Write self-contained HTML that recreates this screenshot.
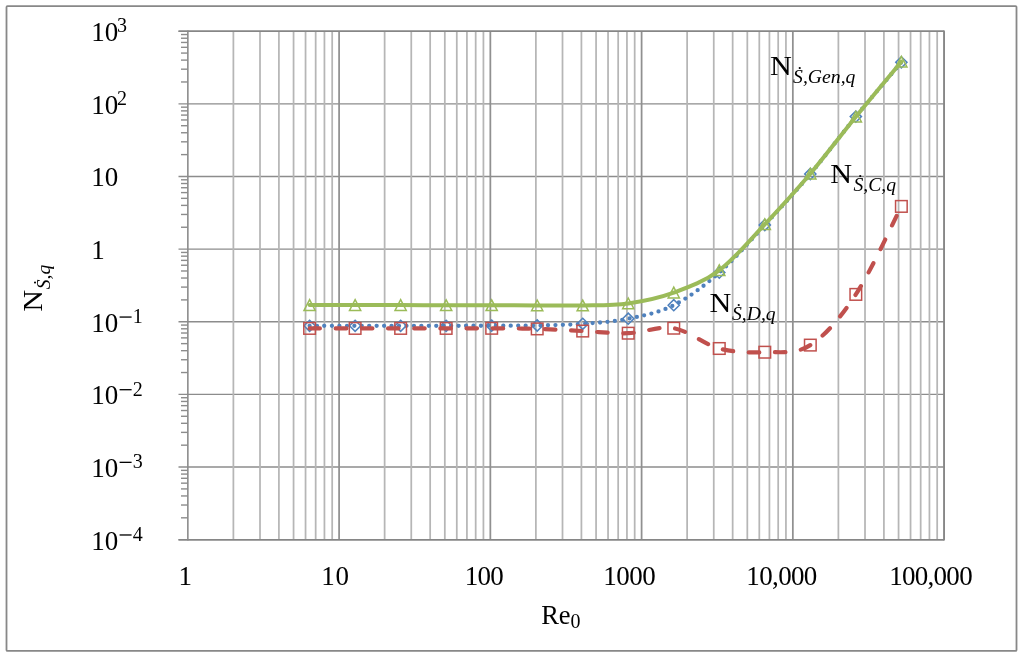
<!DOCTYPE html>
<html><head><meta charset="utf-8"><style>
html,body{margin:0;padding:0;background:#fff;}
svg{display:block;will-change:transform;}
</style></head><body>
<svg width="1024" height="658" viewBox="0 0 1024 658">
<rect x="0" y="0" width="1024" height="658" fill="#fff"/>
<rect x="6.5" y="6.2" width="1010" height="644.7" rx="1" fill="none" stroke="#888" stroke-width="1.8"/>
<line x1="178.5" y1="539.68" x2="944.10" y2="539.68" stroke="#8c8c8c" stroke-width="1.4"/>
<line x1="178.5" y1="467.04" x2="944.10" y2="467.04" stroke="#8c8c8c" stroke-width="1.4"/>
<line x1="178.5" y1="394.40" x2="944.10" y2="394.40" stroke="#8c8c8c" stroke-width="1.4"/>
<line x1="178.5" y1="321.76" x2="944.10" y2="321.76" stroke="#8c8c8c" stroke-width="1.4"/>
<line x1="178.5" y1="249.12" x2="944.10" y2="249.12" stroke="#8c8c8c" stroke-width="1.4"/>
<line x1="178.5" y1="176.48" x2="944.10" y2="176.48" stroke="#8c8c8c" stroke-width="1.4"/>
<line x1="178.5" y1="103.84" x2="944.10" y2="103.84" stroke="#8c8c8c" stroke-width="1.4"/>
<line x1="178.5" y1="31.20" x2="944.10" y2="31.20" stroke="#8c8c8c" stroke-width="1.4"/>
<line x1="181" y1="517.81" x2="187.85" y2="517.81" stroke="#8c8c8c" stroke-width="1.4"/>
<line x1="181" y1="505.02" x2="187.85" y2="505.02" stroke="#8c8c8c" stroke-width="1.4"/>
<line x1="181" y1="495.95" x2="187.85" y2="495.95" stroke="#8c8c8c" stroke-width="1.4"/>
<line x1="181" y1="488.91" x2="187.85" y2="488.91" stroke="#8c8c8c" stroke-width="1.4"/>
<line x1="181" y1="483.16" x2="187.85" y2="483.16" stroke="#8c8c8c" stroke-width="1.4"/>
<line x1="181" y1="478.29" x2="187.85" y2="478.29" stroke="#8c8c8c" stroke-width="1.4"/>
<line x1="181" y1="474.08" x2="187.85" y2="474.08" stroke="#8c8c8c" stroke-width="1.4"/>
<line x1="181" y1="470.36" x2="187.85" y2="470.36" stroke="#8c8c8c" stroke-width="1.4"/>
<line x1="181" y1="445.17" x2="187.85" y2="445.17" stroke="#8c8c8c" stroke-width="1.4"/>
<line x1="181" y1="432.38" x2="187.85" y2="432.38" stroke="#8c8c8c" stroke-width="1.4"/>
<line x1="181" y1="423.31" x2="187.85" y2="423.31" stroke="#8c8c8c" stroke-width="1.4"/>
<line x1="181" y1="416.27" x2="187.85" y2="416.27" stroke="#8c8c8c" stroke-width="1.4"/>
<line x1="181" y1="410.52" x2="187.85" y2="410.52" stroke="#8c8c8c" stroke-width="1.4"/>
<line x1="181" y1="405.65" x2="187.85" y2="405.65" stroke="#8c8c8c" stroke-width="1.4"/>
<line x1="181" y1="401.44" x2="187.85" y2="401.44" stroke="#8c8c8c" stroke-width="1.4"/>
<line x1="181" y1="397.72" x2="187.85" y2="397.72" stroke="#8c8c8c" stroke-width="1.4"/>
<line x1="181" y1="372.53" x2="187.85" y2="372.53" stroke="#8c8c8c" stroke-width="1.4"/>
<line x1="181" y1="359.74" x2="187.85" y2="359.74" stroke="#8c8c8c" stroke-width="1.4"/>
<line x1="181" y1="350.67" x2="187.85" y2="350.67" stroke="#8c8c8c" stroke-width="1.4"/>
<line x1="181" y1="343.63" x2="187.85" y2="343.63" stroke="#8c8c8c" stroke-width="1.4"/>
<line x1="181" y1="337.88" x2="187.85" y2="337.88" stroke="#8c8c8c" stroke-width="1.4"/>
<line x1="181" y1="333.01" x2="187.85" y2="333.01" stroke="#8c8c8c" stroke-width="1.4"/>
<line x1="181" y1="328.80" x2="187.85" y2="328.80" stroke="#8c8c8c" stroke-width="1.4"/>
<line x1="181" y1="325.08" x2="187.85" y2="325.08" stroke="#8c8c8c" stroke-width="1.4"/>
<line x1="181" y1="299.89" x2="187.85" y2="299.89" stroke="#8c8c8c" stroke-width="1.4"/>
<line x1="181" y1="287.10" x2="187.85" y2="287.10" stroke="#8c8c8c" stroke-width="1.4"/>
<line x1="181" y1="278.03" x2="187.85" y2="278.03" stroke="#8c8c8c" stroke-width="1.4"/>
<line x1="181" y1="270.99" x2="187.85" y2="270.99" stroke="#8c8c8c" stroke-width="1.4"/>
<line x1="181" y1="265.24" x2="187.85" y2="265.24" stroke="#8c8c8c" stroke-width="1.4"/>
<line x1="181" y1="260.37" x2="187.85" y2="260.37" stroke="#8c8c8c" stroke-width="1.4"/>
<line x1="181" y1="256.16" x2="187.85" y2="256.16" stroke="#8c8c8c" stroke-width="1.4"/>
<line x1="181" y1="252.44" x2="187.85" y2="252.44" stroke="#8c8c8c" stroke-width="1.4"/>
<line x1="181" y1="227.25" x2="187.85" y2="227.25" stroke="#8c8c8c" stroke-width="1.4"/>
<line x1="181" y1="214.46" x2="187.85" y2="214.46" stroke="#8c8c8c" stroke-width="1.4"/>
<line x1="181" y1="205.39" x2="187.85" y2="205.39" stroke="#8c8c8c" stroke-width="1.4"/>
<line x1="181" y1="198.35" x2="187.85" y2="198.35" stroke="#8c8c8c" stroke-width="1.4"/>
<line x1="181" y1="192.60" x2="187.85" y2="192.60" stroke="#8c8c8c" stroke-width="1.4"/>
<line x1="181" y1="187.73" x2="187.85" y2="187.73" stroke="#8c8c8c" stroke-width="1.4"/>
<line x1="181" y1="183.52" x2="187.85" y2="183.52" stroke="#8c8c8c" stroke-width="1.4"/>
<line x1="181" y1="179.80" x2="187.85" y2="179.80" stroke="#8c8c8c" stroke-width="1.4"/>
<line x1="181" y1="154.61" x2="187.85" y2="154.61" stroke="#8c8c8c" stroke-width="1.4"/>
<line x1="181" y1="141.82" x2="187.85" y2="141.82" stroke="#8c8c8c" stroke-width="1.4"/>
<line x1="181" y1="132.75" x2="187.85" y2="132.75" stroke="#8c8c8c" stroke-width="1.4"/>
<line x1="181" y1="125.71" x2="187.85" y2="125.71" stroke="#8c8c8c" stroke-width="1.4"/>
<line x1="181" y1="119.96" x2="187.85" y2="119.96" stroke="#8c8c8c" stroke-width="1.4"/>
<line x1="181" y1="115.09" x2="187.85" y2="115.09" stroke="#8c8c8c" stroke-width="1.4"/>
<line x1="181" y1="110.88" x2="187.85" y2="110.88" stroke="#8c8c8c" stroke-width="1.4"/>
<line x1="181" y1="107.16" x2="187.85" y2="107.16" stroke="#8c8c8c" stroke-width="1.4"/>
<line x1="181" y1="81.97" x2="187.85" y2="81.97" stroke="#8c8c8c" stroke-width="1.4"/>
<line x1="181" y1="69.18" x2="187.85" y2="69.18" stroke="#8c8c8c" stroke-width="1.4"/>
<line x1="181" y1="60.11" x2="187.85" y2="60.11" stroke="#8c8c8c" stroke-width="1.4"/>
<line x1="181" y1="53.07" x2="187.85" y2="53.07" stroke="#8c8c8c" stroke-width="1.4"/>
<line x1="181" y1="47.32" x2="187.85" y2="47.32" stroke="#8c8c8c" stroke-width="1.4"/>
<line x1="181" y1="42.45" x2="187.85" y2="42.45" stroke="#8c8c8c" stroke-width="1.4"/>
<line x1="181" y1="38.24" x2="187.85" y2="38.24" stroke="#8c8c8c" stroke-width="1.4"/>
<line x1="181" y1="34.52" x2="187.85" y2="34.52" stroke="#8c8c8c" stroke-width="1.4"/>
<line x1="233.38" y1="31.20" x2="233.38" y2="539.68" stroke="#b6b6b6" stroke-width="1.75"/>
<line x1="260.01" y1="31.20" x2="260.01" y2="539.68" stroke="#b6b6b6" stroke-width="1.75"/>
<line x1="278.91" y1="31.20" x2="278.91" y2="539.68" stroke="#b6b6b6" stroke-width="1.75"/>
<line x1="293.57" y1="31.20" x2="293.57" y2="539.68" stroke="#b6b6b6" stroke-width="1.75"/>
<line x1="305.55" y1="31.20" x2="305.55" y2="539.68" stroke="#b6b6b6" stroke-width="1.75"/>
<line x1="315.67" y1="31.20" x2="315.67" y2="539.68" stroke="#b6b6b6" stroke-width="1.75"/>
<line x1="324.44" y1="31.20" x2="324.44" y2="539.68" stroke="#b6b6b6" stroke-width="1.75"/>
<line x1="332.18" y1="31.20" x2="332.18" y2="539.68" stroke="#b6b6b6" stroke-width="1.75"/>
<line x1="384.63" y1="31.20" x2="384.63" y2="539.68" stroke="#b6b6b6" stroke-width="1.75"/>
<line x1="411.26" y1="31.20" x2="411.26" y2="539.68" stroke="#b6b6b6" stroke-width="1.75"/>
<line x1="430.16" y1="31.20" x2="430.16" y2="539.68" stroke="#b6b6b6" stroke-width="1.75"/>
<line x1="444.82" y1="31.20" x2="444.82" y2="539.68" stroke="#b6b6b6" stroke-width="1.75"/>
<line x1="456.80" y1="31.20" x2="456.80" y2="539.68" stroke="#b6b6b6" stroke-width="1.75"/>
<line x1="466.92" y1="31.20" x2="466.92" y2="539.68" stroke="#b6b6b6" stroke-width="1.75"/>
<line x1="475.69" y1="31.20" x2="475.69" y2="539.68" stroke="#b6b6b6" stroke-width="1.75"/>
<line x1="483.43" y1="31.20" x2="483.43" y2="539.68" stroke="#b6b6b6" stroke-width="1.75"/>
<line x1="535.88" y1="31.20" x2="535.88" y2="539.68" stroke="#b6b6b6" stroke-width="1.75"/>
<line x1="562.51" y1="31.20" x2="562.51" y2="539.68" stroke="#b6b6b6" stroke-width="1.75"/>
<line x1="581.41" y1="31.20" x2="581.41" y2="539.68" stroke="#b6b6b6" stroke-width="1.75"/>
<line x1="596.07" y1="31.20" x2="596.07" y2="539.68" stroke="#b6b6b6" stroke-width="1.75"/>
<line x1="608.05" y1="31.20" x2="608.05" y2="539.68" stroke="#b6b6b6" stroke-width="1.75"/>
<line x1="618.17" y1="31.20" x2="618.17" y2="539.68" stroke="#b6b6b6" stroke-width="1.75"/>
<line x1="626.94" y1="31.20" x2="626.94" y2="539.68" stroke="#b6b6b6" stroke-width="1.75"/>
<line x1="634.68" y1="31.20" x2="634.68" y2="539.68" stroke="#b6b6b6" stroke-width="1.75"/>
<line x1="687.13" y1="31.20" x2="687.13" y2="539.68" stroke="#b6b6b6" stroke-width="1.75"/>
<line x1="713.76" y1="31.20" x2="713.76" y2="539.68" stroke="#b6b6b6" stroke-width="1.75"/>
<line x1="732.66" y1="31.20" x2="732.66" y2="539.68" stroke="#b6b6b6" stroke-width="1.75"/>
<line x1="747.32" y1="31.20" x2="747.32" y2="539.68" stroke="#b6b6b6" stroke-width="1.75"/>
<line x1="759.30" y1="31.20" x2="759.30" y2="539.68" stroke="#b6b6b6" stroke-width="1.75"/>
<line x1="769.42" y1="31.20" x2="769.42" y2="539.68" stroke="#b6b6b6" stroke-width="1.75"/>
<line x1="778.19" y1="31.20" x2="778.19" y2="539.68" stroke="#b6b6b6" stroke-width="1.75"/>
<line x1="785.93" y1="31.20" x2="785.93" y2="539.68" stroke="#b6b6b6" stroke-width="1.75"/>
<line x1="838.38" y1="31.20" x2="838.38" y2="539.68" stroke="#b6b6b6" stroke-width="1.75"/>
<line x1="865.01" y1="31.20" x2="865.01" y2="539.68" stroke="#b6b6b6" stroke-width="1.75"/>
<line x1="883.91" y1="31.20" x2="883.91" y2="539.68" stroke="#b6b6b6" stroke-width="1.75"/>
<line x1="898.57" y1="31.20" x2="898.57" y2="539.68" stroke="#b6b6b6" stroke-width="1.75"/>
<line x1="910.55" y1="31.20" x2="910.55" y2="539.68" stroke="#b6b6b6" stroke-width="1.75"/>
<line x1="920.67" y1="31.20" x2="920.67" y2="539.68" stroke="#b6b6b6" stroke-width="1.75"/>
<line x1="929.44" y1="31.20" x2="929.44" y2="539.68" stroke="#b6b6b6" stroke-width="1.75"/>
<line x1="937.18" y1="31.20" x2="937.18" y2="539.68" stroke="#b6b6b6" stroke-width="1.75"/>
<line x1="339.10" y1="31.20" x2="339.10" y2="539.68" stroke="#909090" stroke-width="1.75"/>
<line x1="490.35" y1="31.20" x2="490.35" y2="539.68" stroke="#909090" stroke-width="1.75"/>
<line x1="641.60" y1="31.20" x2="641.60" y2="539.68" stroke="#909090" stroke-width="1.75"/>
<line x1="792.85" y1="31.20" x2="792.85" y2="539.68" stroke="#909090" stroke-width="1.75"/>
<line x1="944.10" y1="31.20" x2="944.10" y2="539.68" stroke="#909090" stroke-width="1.75"/>
<line x1="178.5" y1="31.20" x2="944.10" y2="31.20" stroke="#868686" stroke-width="1.5"/>
<line x1="944.10" y1="30.45" x2="944.10" y2="540.43" stroke="#868686" stroke-width="1.5"/>
<line x1="178.5" y1="539.68" x2="944.10" y2="539.68" stroke="#868686" stroke-width="1.5"/>
<line x1="187.85" y1="30.50" x2="187.85" y2="540.38" stroke="#8c8c8c" stroke-width="1.6"/>
<path d="M309.60,325.80 C317.19,325.80 339.95,325.80 355.12,325.80 C370.29,325.80 385.47,325.80 400.64,325.80 C415.81,325.80 430.99,325.82 446.16,325.80 C461.33,325.78 476.51,325.75 491.68,325.70 C506.85,325.65 522.03,325.82 537.20,325.50 C552.37,325.18 567.55,324.93 582.72,323.80 C597.89,322.67 613.07,321.80 628.24,318.70 C643.41,315.60 658.59,312.88 673.76,305.20 C688.93,297.52 704.11,285.97 719.28,272.60 C734.45,259.23 749.63,241.43 764.80,225.00 C779.97,208.57 795.15,192.07 810.32,174.00 C825.49,155.93 840.67,135.22 855.84,116.60 C871.01,97.98 893.77,71.35 901.36,62.30" fill="none" stroke="#4F81BD" stroke-width="4.3" stroke-dasharray="0 7.45" stroke-linecap="round"/>
<path d="M309.60,320.20 L315.20,325.80 L309.60,331.40 L304.00,325.80 Z" fill="none" stroke="#4F81BD" stroke-width="1.5"/>
<path d="M355.12,320.20 L360.72,325.80 L355.12,331.40 L349.52,325.80 Z" fill="none" stroke="#4F81BD" stroke-width="1.5"/>
<path d="M400.64,320.20 L406.24,325.80 L400.64,331.40 L395.04,325.80 Z" fill="none" stroke="#4F81BD" stroke-width="1.5"/>
<path d="M446.16,320.20 L451.76,325.80 L446.16,331.40 L440.56,325.80 Z" fill="none" stroke="#4F81BD" stroke-width="1.5"/>
<path d="M491.68,320.10 L497.28,325.70 L491.68,331.30 L486.08,325.70 Z" fill="none" stroke="#4F81BD" stroke-width="1.5"/>
<path d="M537.20,319.90 L542.80,325.50 L537.20,331.10 L531.60,325.50 Z" fill="none" stroke="#4F81BD" stroke-width="1.5"/>
<path d="M582.72,318.20 L588.32,323.80 L582.72,329.40 L577.12,323.80 Z" fill="none" stroke="#4F81BD" stroke-width="1.5"/>
<path d="M628.24,313.10 L633.84,318.70 L628.24,324.30 L622.64,318.70 Z" fill="none" stroke="#4F81BD" stroke-width="1.5"/>
<path d="M673.76,299.60 L679.36,305.20 L673.76,310.80 L668.16,305.20 Z" fill="none" stroke="#4F81BD" stroke-width="1.5"/>
<path d="M719.28,267.00 L724.88,272.60 L719.28,278.20 L713.68,272.60 Z" fill="none" stroke="#4F81BD" stroke-width="1.5"/>
<path d="M764.80,219.40 L770.40,225.00 L764.80,230.60 L759.20,225.00 Z" fill="none" stroke="#4F81BD" stroke-width="1.5"/>
<path d="M810.32,168.40 L815.92,174.00 L810.32,179.60 L804.72,174.00 Z" fill="none" stroke="#4F81BD" stroke-width="1.5"/>
<path d="M855.84,111.00 L861.44,116.60 L855.84,122.20 L850.24,116.60 Z" fill="none" stroke="#4F81BD" stroke-width="1.5"/>
<path d="M901.36,56.70 L906.96,62.30 L901.36,67.90 L895.76,62.30 Z" fill="none" stroke="#4F81BD" stroke-width="1.5"/>
<rect x="303.80" y="322.60" width="11.60" height="11.60" fill="none" stroke="#C0504D" stroke-width="1.5"/>
<rect x="349.32" y="322.60" width="11.60" height="11.60" fill="none" stroke="#C0504D" stroke-width="1.5"/>
<rect x="394.84" y="322.60" width="11.60" height="11.60" fill="none" stroke="#C0504D" stroke-width="1.5"/>
<rect x="440.36" y="322.60" width="11.60" height="11.60" fill="none" stroke="#C0504D" stroke-width="1.5"/>
<rect x="485.88" y="322.50" width="11.60" height="11.60" fill="none" stroke="#C0504D" stroke-width="1.5"/>
<rect x="531.40" y="323.10" width="11.60" height="11.60" fill="none" stroke="#C0504D" stroke-width="1.5"/>
<rect x="576.92" y="325.25" width="11.60" height="11.60" fill="none" stroke="#C0504D" stroke-width="1.5"/>
<rect x="622.44" y="327.40" width="11.60" height="11.60" fill="none" stroke="#C0504D" stroke-width="1.5"/>
<rect x="667.96" y="322.40" width="11.60" height="11.60" fill="none" stroke="#C0504D" stroke-width="1.5"/>
<rect x="713.48" y="342.70" width="11.60" height="11.60" fill="none" stroke="#C0504D" stroke-width="1.5"/>
<rect x="759.00" y="346.40" width="11.60" height="11.60" fill="none" stroke="#C0504D" stroke-width="1.5"/>
<rect x="804.52" y="339.30" width="11.60" height="11.60" fill="none" stroke="#C0504D" stroke-width="1.5"/>
<rect x="850.04" y="288.60" width="11.60" height="11.60" fill="none" stroke="#C0504D" stroke-width="1.5"/>
<rect x="895.56" y="200.60" width="11.60" height="11.60" fill="none" stroke="#C0504D" stroke-width="1.5"/>
<path d="M309.60,328.40 C317.19,328.40 339.95,328.40 355.12,328.40 C370.29,328.40 385.47,328.40 400.64,328.40 C415.81,328.40 430.99,328.42 446.16,328.40 C461.33,328.38 476.51,328.22 491.68,328.30 C506.85,328.38 522.03,328.44 537.20,328.90 C552.37,329.36 567.55,330.33 582.72,331.05 C597.89,331.77 613.07,333.68 628.24,333.20 C643.41,332.72 658.59,325.65 673.76,328.20 C688.93,330.75 704.11,344.50 719.28,348.50 C734.45,352.50 749.63,352.77 764.80,352.20 C779.97,351.63 795.15,354.73 810.32,345.10 C825.49,335.47 840.67,317.52 855.84,294.40 C871.01,271.28 893.77,221.07 901.36,206.40" fill="none" stroke="#C0504D" stroke-width="4.2" stroke-dasharray="10.5 15.65" stroke-linecap="round"/>
<path d="M309.60,299.70 L315.20,310.40 L304.00,310.40 Z" fill="none" stroke="#9BBB59" stroke-width="1.5" stroke-linejoin="miter"/>
<path d="M355.12,299.70 L360.72,310.40 L349.52,310.40 Z" fill="none" stroke="#9BBB59" stroke-width="1.5" stroke-linejoin="miter"/>
<path d="M400.64,299.70 L406.24,310.40 L395.04,310.40 Z" fill="none" stroke="#9BBB59" stroke-width="1.5" stroke-linejoin="miter"/>
<path d="M446.16,299.80 L451.76,310.50 L440.56,310.50 Z" fill="none" stroke="#9BBB59" stroke-width="1.5" stroke-linejoin="miter"/>
<path d="M491.68,299.90 L497.28,310.60 L486.08,310.60 Z" fill="none" stroke="#9BBB59" stroke-width="1.5" stroke-linejoin="miter"/>
<path d="M537.20,300.00 L542.80,310.70 L531.60,310.70 Z" fill="none" stroke="#9BBB59" stroke-width="1.5" stroke-linejoin="miter"/>
<path d="M582.72,300.10 L588.32,310.80 L577.12,310.80 Z" fill="none" stroke="#9BBB59" stroke-width="1.5" stroke-linejoin="miter"/>
<path d="M628.24,298.00 L633.84,308.70 L622.64,308.70 Z" fill="none" stroke="#9BBB59" stroke-width="1.5" stroke-linejoin="miter"/>
<path d="M673.76,287.20 L679.36,297.90 L668.16,297.90 Z" fill="none" stroke="#9BBB59" stroke-width="1.5" stroke-linejoin="miter"/>
<path d="M719.28,264.90 L724.88,275.60 L713.68,275.60 Z" fill="none" stroke="#9BBB59" stroke-width="1.5" stroke-linejoin="miter"/>
<path d="M764.80,218.90 L770.40,229.60 L759.20,229.60 Z" fill="none" stroke="#9BBB59" stroke-width="1.5" stroke-linejoin="miter"/>
<path d="M810.32,168.30 L815.92,179.00 L804.72,179.00 Z" fill="none" stroke="#9BBB59" stroke-width="1.5" stroke-linejoin="miter"/>
<path d="M855.84,111.30 L861.44,122.00 L850.24,122.00 Z" fill="none" stroke="#9BBB59" stroke-width="1.5" stroke-linejoin="miter"/>
<path d="M901.36,56.30 L906.96,67.00 L895.76,67.00 Z" fill="none" stroke="#9BBB59" stroke-width="1.5" stroke-linejoin="miter"/>
<path d="M309.60,305.10 C317.19,305.10 339.95,305.10 355.12,305.10 C370.29,305.10 385.47,305.08 400.64,305.10 C415.81,305.12 430.99,305.17 446.16,305.20 C461.33,305.23 476.51,305.27 491.68,305.30 C506.85,305.33 522.03,305.37 537.20,305.40 C552.37,305.43 567.55,305.83 582.72,305.50 C597.89,305.17 613.07,305.55 628.24,303.40 C643.41,301.25 658.59,298.12 673.76,292.60 C688.93,287.08 704.11,281.68 719.28,270.30 C734.45,258.92 749.63,240.40 764.80,224.30 C779.97,208.20 795.15,191.63 810.32,173.70 C825.49,155.77 840.67,135.37 855.84,116.70 C871.01,98.03 893.77,70.87 901.36,61.70" fill="none" stroke="#9BBB59" stroke-width="4" stroke-linecap="round"/>
<g fill="#000">
<text x="91.13" y="41.20" font-family="Liberation Serif" font-size="27">10</text>
<text x="117.1" y="32.30" font-family="Liberation Serif" font-size="20">3</text>
<text x="91.13" y="113.84" font-family="Liberation Serif" font-size="27">10</text>
<text x="117.1" y="104.94" font-family="Liberation Serif" font-size="20">2</text>
<text x="91.13" y="186.48" font-family="Liberation Serif" font-size="27">10</text>
<text x="91.13" y="259.12" font-family="Liberation Serif" font-size="27">1</text>
<text x="91.13" y="331.76" font-family="Liberation Serif" font-size="27">10</text>
<rect x="119.6" y="316.41" width="12" height="1.3"/>
<text x="132.85" y="322.86" font-family="Liberation Serif" font-size="20">1</text>
<text x="91.13" y="404.40" font-family="Liberation Serif" font-size="27">10</text>
<rect x="119.6" y="389.05" width="12" height="1.3"/>
<text x="132.85" y="395.50" font-family="Liberation Serif" font-size="20">2</text>
<text x="91.13" y="477.04" font-family="Liberation Serif" font-size="27">10</text>
<rect x="119.6" y="461.69" width="12" height="1.3"/>
<text x="132.85" y="468.14" font-family="Liberation Serif" font-size="20">3</text>
<text x="91.13" y="549.68" font-family="Liberation Serif" font-size="27">10</text>
<rect x="119.6" y="534.33" width="12" height="1.3"/>
<text x="132.85" y="540.78" font-family="Liberation Serif" font-size="20">4</text>
<text x="178.57" y="584.9" font-family="Liberation Serif" font-size="27">1</text>
<text x="321.33" y="584.9" font-family="Liberation Serif" font-size="27" textLength="27.60" lengthAdjust="spacing">10</text>
<text x="464.63" y="584.9" font-family="Liberation Serif" font-size="27" textLength="39.20" lengthAdjust="spacing">100</text>
<text x="603.13" y="584.9" font-family="Liberation Serif" font-size="27" textLength="52.60" lengthAdjust="spacing">1000</text>
<text x="746.33" y="584.9" font-family="Liberation Serif" font-size="27" textLength="71.00" lengthAdjust="spacing">10,000</text>
<text x="889.33" y="584.9" font-family="Liberation Serif" font-size="27" textLength="83.30" lengthAdjust="spacing">100,000</text>
<text x="541.14" y="624.1" font-family="Liberation Serif" font-size="26.5">Re<tspan font-size="20" dy="4">0</tspan></text>
<text transform="translate(770.03,74.60) scale(1.12,1)" font-family="Liberation Serif" font-size="27">N</text>
<text x="793.07" y="83.00" font-family="Liberation Serif" font-style="italic" font-size="19.7">Ṡ,Gen,q</text>
<text transform="translate(830.33,183.00) scale(1.12,1)" font-family="Liberation Serif" font-size="27">N</text>
<text x="853.47" y="190.80" font-family="Liberation Serif" font-style="italic" font-size="19.7">Ṡ,C,q</text>
<text transform="translate(709.43,311.70) scale(1.12,1)" font-family="Liberation Serif" font-size="27">N</text>
<text x="731.97" y="319.60" font-family="Liberation Serif" font-style="italic" font-size="19.7">Ṡ,D,q</text>
<g transform="translate(41.7,310.8) rotate(-90)"><text transform="translate(-0.87,0.00) scale(1.12,1)" font-family="Liberation Serif" font-size="27">N</text><text x="21.47" y="8" font-family="Liberation Serif" font-style="italic" font-size="19.7">Ṡ,q</text></g>
</g>
</svg>
</body></html>
